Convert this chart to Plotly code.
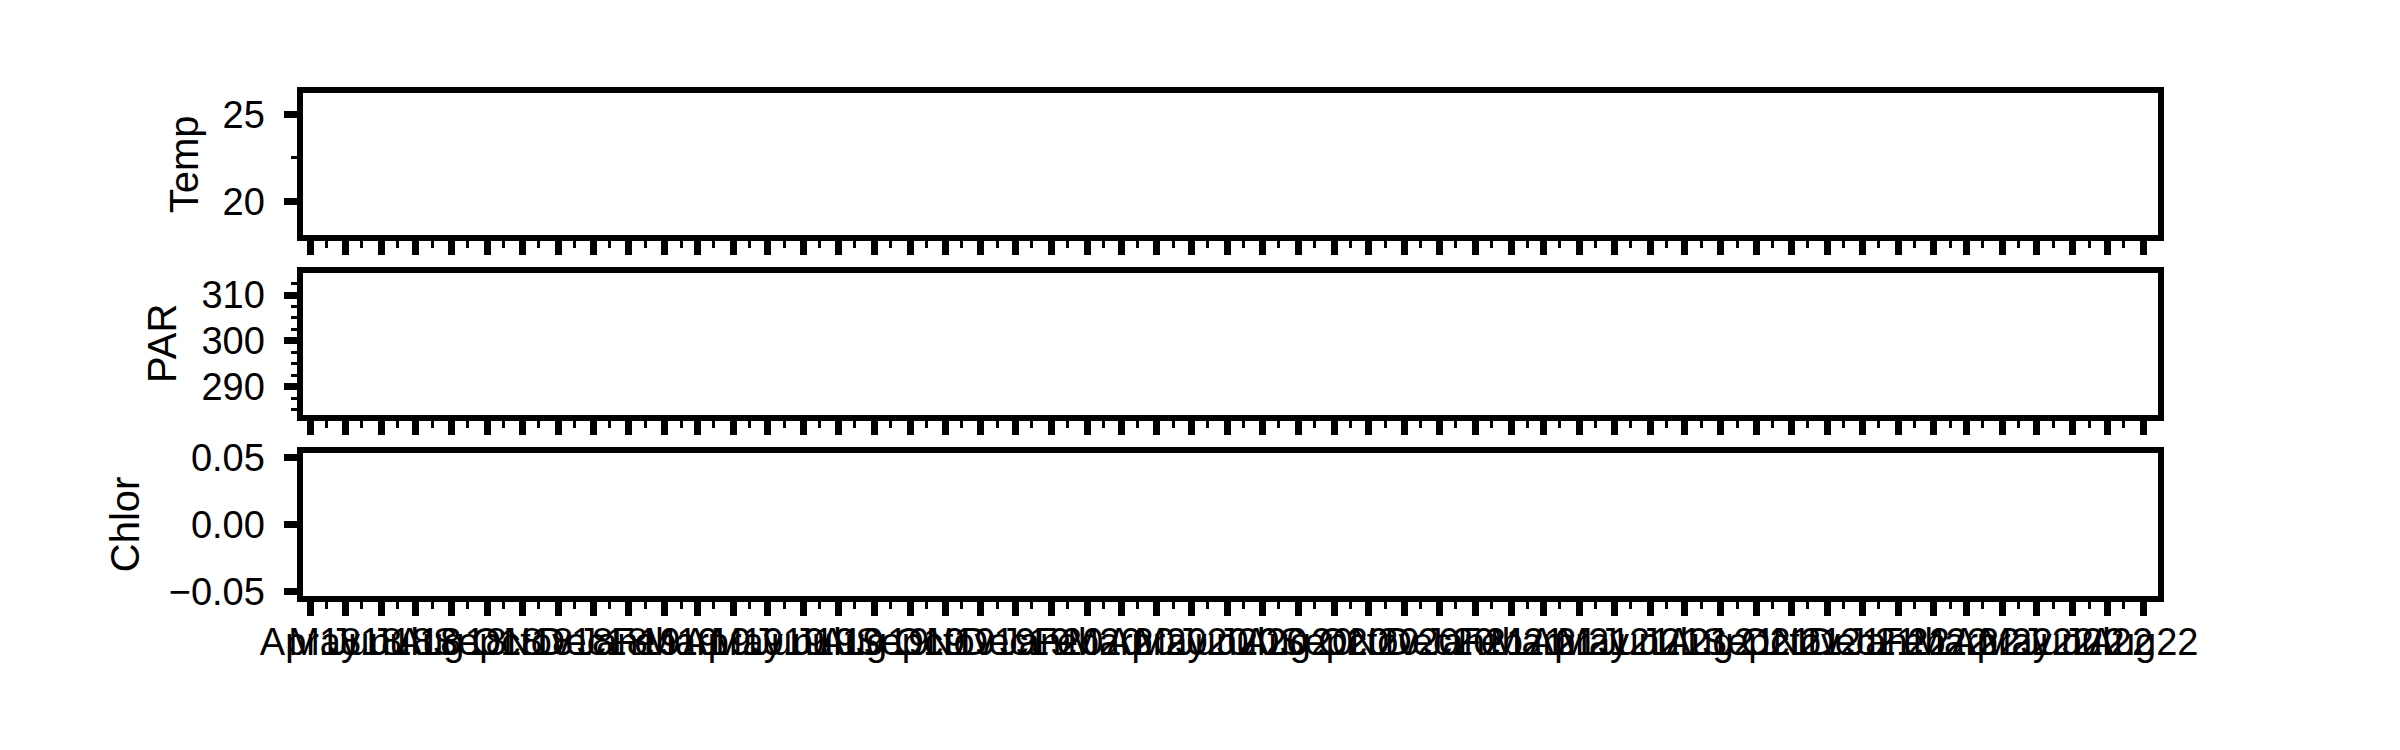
import pandas as pd
import plotly.graph_objects as go

# ---- data (the reference panels show no visible data) ----
dates = []
temp = []
par = []
chlor = []

panel_titles = ["Temp", "PAR", "Chlor"]

# x axis ticks: monthly majors (1st), minor ticks mid-month
tick_months = list(pd.date_range("2018-04-01", "2022-08-01", freq="MS"))
tick_labels = [d.strftime("%b%y") for d in tick_months]
minor_days = [d + pd.Timedelta(days=14) for d in tick_months]

x_range = ["2018-03-25 18:00", "2022-08-13 07:30"]

temp_ticks = [20, 25]
par_ticks = [290, 300, 310]
chlor_ticks = [-0.05, 0.0, 0.05]
chlor_ticktext = ["\u22120.05", "0.00", "0.05"]

temp_range = [18.044, 26.224]
par_range = [283.773, 314.853]
chlor_range = [-0.05295, 0.05295]

# page has an 8px body margin: size the figure so it fits the 2400x750 window
OFF = 8
W, H = 2400 - 2 * OFF, 750 - 2 * OFF
FONT = "Liberation Sans, Arial, sans-serif"
LW = 5.5


def px_x(v):
    return (v - OFF) / W


def px_y(v):
    return 1 - (v - OFF) / H


x_dom = [px_x(303.25), px_x(2157.75)]
y_doms = [
    [px_y(235.25), px_y(93.25)],
    [px_y(415.25), px_y(272.75)],
    [px_y(595.75), px_y(453.25)],
]

fig = go.Figure()
series = [temp, par, chlor]
for i, s in enumerate(series):
    sfx = "" if i == 0 else str(i + 1)
    fig.add_trace(go.Scatter(x=dates, y=s, mode="lines", xaxis="x" + sfx, yaxis="y" + sfx,
                             line=dict(color="#1f77b4"), showlegend=False))


def xaxis(i, show_labels):
    sfx = "" if i == 0 else str(i + 1)
    return dict(
        type="date", range=x_range, domain=x_dom, anchor="y" + sfx,
        automargin=False,
        tickmode="array", tickvals=tick_months, ticktext=tick_labels,
        showticklabels=show_labels,
        ticks="outside", ticklen=14, tickwidth=6.5, tickcolor="black",
        tickfont=dict(family=FONT, size=38, color="black"),
        tickangle=0, ticklabelstandoff=-6,
        showline=True, linewidth=LW, linecolor="black", mirror=True,
        showgrid=False, zeroline=False,
        minor=dict(tickmode="array", tickvals=minor_days, ticks="outside",
                   ticklen=7, tickwidth=2.5, tickcolor="black", showgrid=False),
    )


def yaxis(i, rng, tickvals, ticktext=None, minor_dtick=None):
    sfx = "" if i == 0 else str(i + 1)
    d = dict(
        range=rng, domain=y_doms[i], anchor="x" + sfx,
        automargin=False,
        tickmode="array", tickvals=tickvals,
        ticks="outside", ticklen=14, tickwidth=6.5, tickcolor="black",
        tickfont=dict(family=FONT, size=38, color="black"),
        ticklabelstandoff=11,
        showline=True, linewidth=LW, linecolor="black", mirror=True,
        showgrid=False, zeroline=False,
    )
    if ticktext is not None:
        d["ticktext"] = ticktext
    if minor_dtick is not None:
        d["minor"] = dict(tick0=0, dtick=minor_dtick, ticks="outside", ticklen=7,
                          tickwidth=2.5, tickcolor="black", showgrid=False)
    return d


fig.update_layout(
    template="none",
    width=W, height=H,
    margin=dict(l=0, r=0, t=0, b=0, pad=0),
    paper_bgcolor="white", plot_bgcolor="white",
    showlegend=False,
    xaxis=xaxis(0, False), xaxis2=xaxis(1, False), xaxis3=xaxis(2, True),
    yaxis=yaxis(0, temp_range, temp_ticks, minor_dtick=2.5),
    yaxis2=yaxis(1, par_range, par_ticks, minor_dtick=2.5),
    yaxis3=yaxis(2, chlor_range, chlor_ticks, ticktext=chlor_ticktext),
)

title_x = [184, 162, 125]
title_y = [164.25, 344, 524.25]
for t, xp, yp in zip(panel_titles, title_x, title_y):
    fig.add_annotation(text=t, x=px_x(xp), y=px_y(yp), xref="paper", yref="paper",
                       xanchor="center", yanchor="middle", showarrow=False, textangle=-90,
                       font=dict(family=FONT, size=40, color="black"))

fig.write_html("out.html")
